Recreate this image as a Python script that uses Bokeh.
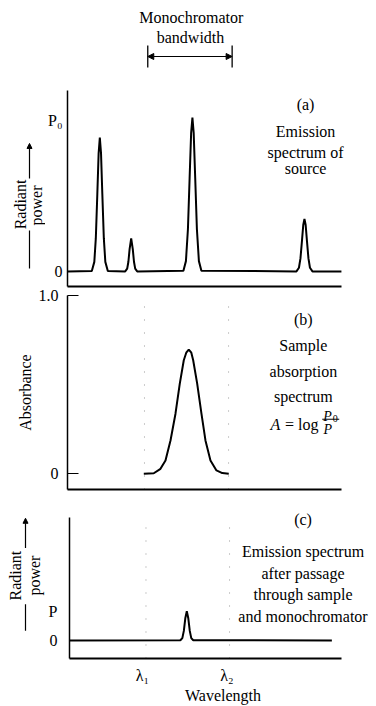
from bokeh.plotting import figure
from bokeh.layouts import column, row
from bokeh.models import Range1d, FixedTicker, Label, Arrow, NormalHead
from bokeh.embed import file_html
from bokeh.resources import INLINE

FONT = "Liberation Serif"
FS = "16px"

# ---------------- data ----------------
# (a) emission spectrum of the source: wavelength (arb. units, 0-100), radiant power (P0 = 1)
wl_a = [0.0,
        8.88, 9.79, 10.34, 10.89, 11.36, 11.80, 12.24, 12.71, 13.26, 13.81, 14.72,
        21.06, 21.79, 22.23, 22.67, 23.25, 23.83, 24.27, 24.71, 25.44,
        42.32, 43.23, 43.96, 44.58, 45.13, 45.60, 46.07, 46.62, 47.24, 47.97, 48.88,
        83.58, 84.49, 85.04, 85.59, 86.06, 86.50, 86.94, 87.41, 87.96, 88.51, 89.42,
        100.0]
pw_a = [0.0,
        0.003, 0.064, 0.221, 0.515, 0.782, 0.887, 0.782, 0.515, 0.221, 0.064, 0.003,
        0.001, 0.019, 0.065, 0.148, 0.219, 0.148, 0.065, 0.019, 0.001,
        0.006, 0.069, 0.280, 0.619, 0.916, 1.020, 0.916, 0.619, 0.280, 0.069, 0.006,
        0.001, 0.025, 0.087, 0.203, 0.308, 0.349, 0.308, 0.203, 0.087, 0.025, 0.001,
        0.0]

# (b) sample absorption spectrum: absorbance
wl_b = [27.85, 31.5, 33.94, 35.77, 37.6, 39.42, 40.99, 42.45, 43.35, 44.27,
        45.2, 45.88, 47.34, 48.9, 50.36, 52.19, 54.38, 56.5, 58.87]
ab_b = [0.0, 0.003, 0.028, 0.075, 0.187, 0.337, 0.506, 0.637, 0.679, 0.697,
        0.679, 0.637, 0.506, 0.337, 0.187, 0.075, 0.019, 0.004, 0.0]

# (c) emission after sample and monochromator (P = 1)
wl_c = [0.0, 40.73, 41.46, 42.01, 42.55, 43.10, 43.65, 44.19, 44.74, 45.47, 96.4]
pw_c = [0.0, 0.005, 0.08, 0.325, 0.755, 1.0, 0.755, 0.325, 0.08, 0.005, 0.0]

lam = [28.1, 58.8]                 # lambda1, lambda2 (dotted guides)
lam_ticks = [26.8, 57.8]           # tick label positions
lam_labels = ["λ₁", "λ₂"]
bandwidth = [29.3, 60.1]           # monochromator bandwidth bracket

ticks_a = [0, 1]
labels_a = ["0", "P₀"]
ticks_b = [0, 1.0]
labels_b = ["0", "1.0"]
ticks_c = [0, 1]
labels_c = ["0", "P"]

X_AXIS = (0, 100)
YA = (-0.099, 1.199)
YB = (-0.088, 1.0)
YC = (-0.616, 4.199)

# ---------------- figures ----------------
xr = Range1d(0, 112.8)


def make_fig(width, height, left, right, top, bottom, x_range, y_range, axes=True):
    kw = {}
    if not axes:
        kw = dict(x_axis_type=None, y_axis_type=None)
    p = figure(width=width, height=height, x_range=x_range, y_range=y_range,
               output_backend="svg", toolbar_location=None,
               min_border_left=left, min_border_right=right,
               min_border_top=top, min_border_bottom=bottom, **kw)
    p.outline_line_color = None
    p.grid.visible = False
    p.background_fill_color = None
    p.border_fill_color = None
    return p


def style_axis(ax, ticks, labels, bounds, tick_in=0, standoff=8, width=1.5):
    ax.ticker = FixedTicker(ticks=ticks)
    ax.major_label_overrides = {t: l for t, l in zip(ticks, labels)}
    ax.bounds = bounds
    ax.major_tick_in = tick_in
    ax.major_tick_out = 0
    ax.minor_tick_in = 0
    ax.minor_tick_out = 0
    ax.major_label_standoff = standoff
    ax.major_label_text_font = FONT
    ax.major_label_text_font_size = FS
    ax.major_label_text_color = "black"
    ax.axis_line_color = "black"
    ax.axis_line_width = width
    ax.major_tick_line_color = "black"
    ax.major_tick_line_width = 1.2


def bare_x(ax, width=2):
    style_axis(ax, [], [], X_AXIS, standoff=0, width=width)


def lab(p, x, y, text, size=FS, style="normal", align="center",
        baseline="alphabetic", angle=0.0):
    p.add_layout(Label(x=x, y=y, text=text, text_font=FONT, text_font_size=size,
                       text_font_style=style, text_align=align,
                       text_baseline=baseline, angle=angle, text_color="black"))


def head(size):
    return NormalHead(size=size, fill_color="black", line_color="black")


# ---- top: monochromator bandwidth ----
top = make_fig(376, 86, 67, 0, 0, 0, xr, Range1d(86, 0), axes=False)
lab(top, 45.2, 17, "Monochromator", baseline="middle")
lab(top, 44.9, 37, "bandwidth", baseline="middle")
top.segment(x0=bandwidth, y0=[45, 45], x1=bandwidth, y1=[67, 67],
            line_color="black", line_width=1.3)
top.add_layout(Arrow(start=head(6), end=head(6),
                     x_start=bandwidth[0], y_start=56, x_end=bandwidth[1], y_end=56,
                     line_color="black", line_width=1.2))

# ---- (a) ----
ya = Range1d(YA[0], 1.225)
left_a = make_fig(45, 202, 0, 0, 0, 2, Range1d(0, 45), ya, axes=False)
lab(left_a, 19.6, 0.444, "Radiant", angle=1.5708, baseline="middle")
lab(left_a, 36.1, 0.437, "power", angle=1.5708, baseline="middle")
left_a.add_layout(Arrow(end=head(5), x_start=29, y_start=0.616, x_end=29, y_end=0.848,
                        line_color="black", line_width=1.2))
left_a.add_layout(Arrow(end=None, x_start=29, y_start=0.02, x_end=29, y_end=0.272,
                        line_color="black", line_width=1.2))

fa = make_fig(331, 202, 22, 0, 0, 2, xr, ya)
style_axis(fa.yaxis[0], ticks_a, labels_a, YA, standoff=5)
bare_x(fa.xaxis[0])
fa.line(wl_a, pw_a, line_color="black", line_width=2)
for t, yy in [("(a)", 1.106), ("Emission", 0.924), ("spectrum of", 0.788), ("source", 0.679)]:
    lab(fa, 86.9, yy, t)

# ---- (b) ----
fb = make_fig(376, 212, 67, 0, 7, 11, xr, Range1d(*YB))
style_axis(fb.yaxis[0], ticks_b, labels_b, YB, tick_in=11, standoff=9)
fb.yaxis[0].axis_label = "Absorbance"
fb.yaxis[0].axis_label_text_font = FONT
fb.yaxis[0].axis_label_text_font_size = FS
fb.yaxis[0].axis_label_text_font_style = "normal"
fb.yaxis[0].axis_label_text_color = "black"
fb.yaxis[0].axis_label_standoff = 2
bare_x(fb.xaxis[0])
fb.segment(x0=lam, y0=[YB[0]] * 2, x1=lam, y1=[YB[1]] * 2,
           line_color="#999999", line_width=1, line_dash="1 12")
fb.line(wl_b, ab_b, line_color="black", line_width=2)
for t, yy in [("(b)", 0.866), ("Sample", 0.720), ("absorption", 0.575), ("spectrum", 0.435)]:
    lab(fb, 86.1, yy, t)
lab(fb, 74.1, 0.277, "A", style="italic", align="left")
lab(fb, 79.4, 0.277, "= log", align="left")
lab(fb, 94.9, 0.319, "P", size="14px", style="italic")
lab(fb, 96.8, 0.309, "0", size="10px", align="left")
lab(fb, 95.0, 0.251, "P", size="14px", style="italic")
fb.segment(x0=[93.0], y0=[0.306], x1=[99.2], y1=[0.306], line_color="black", line_width=1)

# ---- (c) ----
yc = Range1d(YC[0], 4.771)
left_c = make_fig(45, 206, 0, 0, 0, 46, Range1d(0, 45), yc, axes=False)
lab(left_c, 14.6, 2.21, "Radiant", angle=1.5708, baseline="middle")
lab(left_c, 34.1, 2.21, "power", angle=1.5708, baseline="middle")
left_c.add_layout(Arrow(end=head(5), x_start=25, y_start=3.155, x_end=25, y_end=4.165,
                        line_color="black", line_width=1.2))
left_c.add_layout(Arrow(end=None, x_start=25, y_start=0.327, x_end=25, y_end=1.236,
                        line_color="black", line_width=1.2))

fc = make_fig(331, 206, 22, 0, 0, 46, xr, yc)
style_axis(fc.yaxis[0], ticks_c, labels_c, YC, standoff=12)
style_axis(fc.xaxis[0], lam_ticks, lam_labels, X_AXIS, standoff=8, width=2)
fc.xaxis[0].axis_label = "Wavelength"
fc.xaxis[0].axis_label_text_font = FONT
fc.xaxis[0].axis_label_text_font_size = FS
fc.xaxis[0].axis_label_text_font_style = "normal"
fc.xaxis[0].axis_label_text_color = "black"
fc.xaxis[0].axis_label_standoff = 0
fc.segment(x0=lam, y0=[YC[0]] * 2, x1=lam, y1=[YC[1]] * 2,
           line_color="#999999", line_width=1, line_dash="1 12")
fc.line(wl_c, pw_c, line_color="black", line_width=2)
for t, yy in [("(c)", 4.13), ("Emission spectrum", 3.02), ("after passage", 2.28),
              ("through sample", 1.57), ("and monochromator", 0.83)]:
    lab(fc, 85.8, yy, t)

layout = column(top, row(left_a, fa, spacing=0), fb, row(left_c, fc, spacing=0), spacing=0)
open("out.html", "w").write(file_html(layout, INLINE, "Monochromator bandwidth"))
